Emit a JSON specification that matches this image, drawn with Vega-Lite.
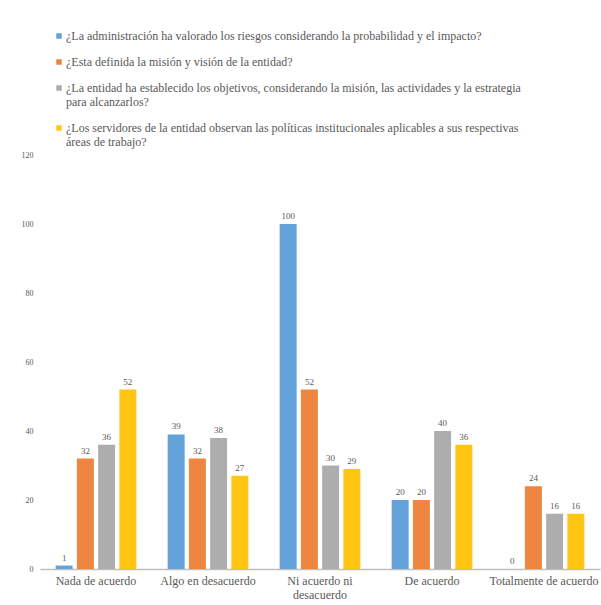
{
  "$schema": "https://vega.github.io/schema/vega-lite/v6.json",
  "width": 560,
  "height": 414,
  "autosize": "none",
  "padding": {"left": 40, "top": 155, "right": 1, "bottom": 36},
  "background": "white",
  "config": {
    "view": {"stroke": null},
    "font": "Liberation Serif"
  },
  "data": {"values": [
    {"cat": "Nada de acuerdo", "q": "¿La administración ha valorado los riesgos considerando la probabilidad y el impacto?", "v": 1},
    {"cat": "Nada de acuerdo", "q": "¿Esta definida la misión y visión de la entidad?", "v": 32},
    {"cat": "Nada de acuerdo", "q": "¿La entidad ha establecido los objetivos, considerando la misión, las actividades y la estrategia para alcanzarlos?", "v": 36},
    {"cat": "Nada de acuerdo", "q": "¿Los servidores de la entidad observan las políticas institucionales aplicables a sus respectivas áreas de trabajo?", "v": 52},
    {"cat": "Algo en desacuerdo", "q": "¿La administración ha valorado los riesgos considerando la probabilidad y el impacto?", "v": 39},
    {"cat": "Algo en desacuerdo", "q": "¿Esta definida la misión y visión de la entidad?", "v": 32},
    {"cat": "Algo en desacuerdo", "q": "¿La entidad ha establecido los objetivos, considerando la misión, las actividades y la estrategia para alcanzarlos?", "v": 38},
    {"cat": "Algo en desacuerdo", "q": "¿Los servidores de la entidad observan las políticas institucionales aplicables a sus respectivas áreas de trabajo?", "v": 27},
    {"cat": "Ni acuerdo ni desacuerdo", "q": "¿La administración ha valorado los riesgos considerando la probabilidad y el impacto?", "v": 100},
    {"cat": "Ni acuerdo ni desacuerdo", "q": "¿Esta definida la misión y visión de la entidad?", "v": 52},
    {"cat": "Ni acuerdo ni desacuerdo", "q": "¿La entidad ha establecido los objetivos, considerando la misión, las actividades y la estrategia para alcanzarlos?", "v": 30},
    {"cat": "Ni acuerdo ni desacuerdo", "q": "¿Los servidores de la entidad observan las políticas institucionales aplicables a sus respectivas áreas de trabajo?", "v": 29},
    {"cat": "De acuerdo", "q": "¿La administración ha valorado los riesgos considerando la probabilidad y el impacto?", "v": 20},
    {"cat": "De acuerdo", "q": "¿Esta definida la misión y visión de la entidad?", "v": 20},
    {"cat": "De acuerdo", "q": "¿La entidad ha establecido los objetivos, considerando la misión, las actividades y la estrategia para alcanzarlos?", "v": 40},
    {"cat": "De acuerdo", "q": "¿Los servidores de la entidad observan las políticas institucionales aplicables a sus respectivas áreas de trabajo?", "v": 36},
    {"cat": "Totalmente de acuerdo", "q": "¿La administración ha valorado los riesgos considerando la probabilidad y el impacto?", "v": 0},
    {"cat": "Totalmente de acuerdo", "q": "¿Esta definida la misión y visión de la entidad?", "v": 24},
    {"cat": "Totalmente de acuerdo", "q": "¿La entidad ha establecido los objetivos, considerando la misión, las actividades y la estrategia para alcanzarlos?", "v": 16},
    {"cat": "Totalmente de acuerdo", "q": "¿Los servidores de la entidad observan las políticas institucionales aplicables a sus respectivas áreas de trabajo?", "v": 16}
  ]},
  "encoding": {
    "x": {
      "field": "cat", "type": "nominal", "sort": null,
      "scale": {"paddingInner": 0.28, "paddingOuter": 0.14},
      "axis": {
        "title": null, "labelAngle": 0, "ticks": false,
        "domainColor": "#BFBFBF", "domainWidth": 1.5,
        "labelFont": "Liberation Serif", "labelFontSize": 12, "labelColor": "#595959",
        "labelPadding": 6, "labelLimit": 200,
        "labelExpr": "datum.value == 'Ni acuerdo ni desacuerdo' ? ['Ni acuerdo ni', 'desacuerdo'] : datum.value"
      }
    },
    "xOffset": {"field": "q", "type": "nominal", "sort": null, "scale": {"paddingInner": 0.2, "paddingOuter": 0}},
    "y": {
      "field": "v", "type": "quantitative",
      "scale": {"domain": [0, 120]},
      "axis": {
        "title": null, "values": [0, 20, 40, 60, 80, 100, 120], "grid": false, "domain": false, "ticks": false,
        "labelFont": "Liberation Serif", "labelFontSize": 8, "labelColor": "#595959", "labelPadding": 7
      }
    }
  },
  "layer": [
    {
      "mark": {"type": "bar"},
      "encoding": {
        "color": {
          "field": "q", "type": "nominal", "sort": null,
          "scale": {"range": ["#64A2DA", "#EE8540", "#ADADAD", "#FFC515"]},
          "legend": {
            "title": null, "orient": "none", "legendX": 13, "legendY": -125, "direction": "vertical",
            "symbolType": "square", "symbolSize": 30, "symbolStrokeWidth": 0,
            "labelFont": "Liberation Serif", "labelFontSize": 12, "labelColor": "#595959",
            "labelLimit": 600, "rowPadding": 14, "labelOffset": 1, "padding": 0,
            "labelExpr": "indexof(datum.label, 'estrategia') > 0 ? ['¿La entidad ha establecido los objetivos, considerando la misión, las actividades y la estrategia', 'para alcanzarlos?'] : indexof(datum.label, 'respectivas') > 0 ? ['¿Los servidores de la entidad observan las políticas institucionales aplicables a sus respectivas', 'áreas de trabajo?'] : datum.label"
          }
        }
      }
    },
    {
      "mark": {"type": "text", "dy": -8, "font": "Liberation Serif", "fontSize": 9, "color": "#595959"},
      "encoding": {"text": {"field": "v", "type": "quantitative"}}
    }
  ]
}
